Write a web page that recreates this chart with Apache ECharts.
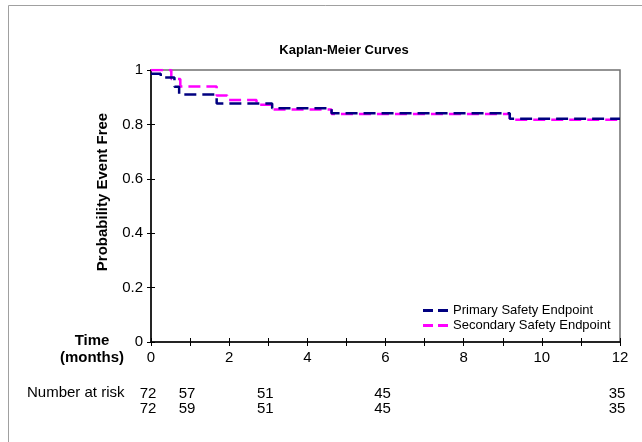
<!DOCTYPE html>
<html>
<head>
<meta charset="utf-8">
<script src="https://cdn.jsdelivr.net/npm/echarts@6/dist/echarts.min.js"></script>
<style>
html,body{margin:0;padding:0;background:#fff;}
#chart{width:642px;height:442px;}
</style>
</head>
<body>
<div id="chart"></div>
<script>
// ---- data ----
const primaryName = 'Primary Safety Endpoint';
const secondaryName = 'Secondary Safety Endpoint';
const primaryTimes = [0, 0.25, 0.6, 0.72, 1.68, 3.1, 4.62, 9.18, 12];
const primarySurv  = [0.986, 0.972, 0.938, 0.910, 0.877, 0.859, 0.841, 0.821, 0.821];
const secondaryTimes = [0, 0.52, 0.75, 1.68, 1.95, 2.7, 3.1, 4.62, 9.18, 12];
const secondarySurv  = [1.0, 0.967, 0.939, 0.906, 0.890, 0.872, 0.855, 0.838, 0.817, 0.817];
const riskTimes = [0, 1, 3, 6, 12];
const riskPrimary = [72, 57, 51, 45, 35];
const riskSecondary = [72, 59, 51, 45, 35];
const xTickLabels = ['0', '2', '4', '6', '8', '10', '12'];
const yTickLabels = ['0', '0.2', '0.4', '0.6', '0.8', '1'];

const font = 'Liberation Sans, Arial, sans-serif';
const zip = (a, b) => a.map((t, i) => [t, b[i]]);
const riskData = [];
riskTimes.forEach((t, i) => { riskData.push([t, 0, riskPrimary[i]]); });
riskTimes.forEach((t, i) => { riskData.push([t, 1, riskSecondary[i]]); });
const dashIcon = 'path://M0,0h10v3h-10z M15,0h10v3h-10z';

const chart = echarts.init(document.getElementById('chart'), null, {renderer: 'canvas'});
chart.setOption({
  animation: false,
  backgroundColor: '#fff',
  textStyle: {fontFamily: font},
  title: {
    text: 'Kaplan-Meier Curves',
    left: 339, top: 39, textAlign: 'center',
    textStyle: {fontFamily: font, fontSize: 13, fontWeight: 'bold', color: '#000'}
  },
  legend: {
    orient: 'vertical', left: 423, top: 304,
    itemWidth: 25, itemHeight: 3, itemGap: 2, padding: 0,
    textStyle: {fontFamily: font, fontSize: 13, color: '#000', padding: [0, 0, 0, 0]},
    data: [{name: primaryName, icon: dashIcon}, {name: secondaryName, icon: dashIcon}]
  },
  grid: [
    {left: 151, right: 22, top: 70, bottom: 100, show: true, borderColor: '#707070', borderWidth: 1.5, backgroundColor: 'transparent'},
    {left: 151, right: 22, top: 386, height: 30}
  ],
  xAxis: [
    {type: 'value', gridIndex: 0, min: 0, max: 12, interval: 1,
     axisLine: {show: true, lineStyle: {color: '#000', width: 1.5}},
     axisTick: {show: true, length: 4, lineStyle: {color: '#000', width: 1}},
     splitLine: {show: false},
     axisLabel: {margin: 8, fontSize: 15, color: '#000', fontFamily: font,
       formatter: v => (xTickLabels.indexOf(String(v)) >= 0 ? String(v) : '')}},
    {type: 'value', gridIndex: 1, min: 0, max: 12, show: false},
    {type: 'value', gridIndex: 0, min: 0, max: 12, interval: 1, position: 'bottom',
     axisLine: {show: false}, axisLabel: {show: false}, splitLine: {show: false},
     axisTick: {show: true, inside: true, length: 4, lineStyle: {color: '#000', width: 1}}}
  ],
  yAxis: [
    {type: 'value', gridIndex: 0, min: 0, max: 1, interval: 0.2,
     axisLine: {show: true, lineStyle: {color: '#000', width: 1.5}},
     axisTick: {show: true, length: 4, lineStyle: {color: '#000', width: 1}},
     splitLine: {show: false},
     axisLabel: {margin: 8, fontSize: 15, color: '#000', fontFamily: font,
       formatter: v => yTickLabels[Math.round(v / 0.2)]}},
    {type: 'category', gridIndex: 1, data: ['primary', 'secondary'], inverse: true, show: false},
    {type: 'value', gridIndex: 0, min: 0, max: 1, interval: 0.2, position: 'left',
     axisLine: {show: false}, axisLabel: {show: false}, splitLine: {show: false},
     axisTick: {show: true, inside: true, length: 4, lineStyle: {color: '#000', width: 1}}}
  ],
  graphic: [
    {type: 'line', shape: {x1: 8.5, y1: 5.5, x2: 8.5, y2: 442}, style: {stroke: '#a0a0a0', lineWidth: 1}, silent: true},
    {type: 'line', shape: {x1: 8.5, y1: 5.5, x2: 642, y2: 5.5}, style: {stroke: '#a0a0a0', lineWidth: 1}, silent: true},
    {type: 'text', x: 103, y: 192, rotation: Math.PI / 2,
     style: {text: 'Probability Event Free', fontFamily: font, fontSize: 15, fontWeight: 'bold', fill: '#000', align: 'center', verticalAlign: 'middle'}},
    {type: 'text', x: 92, y: 349,
     style: {text: 'Time\n(months)', fontFamily: font, fontSize: 15, fontWeight: 'bold', fill: '#000', align: 'center', verticalAlign: 'middle', lineHeight: 17}},
    {type: 'text', x: 27, y: 393,
     style: {text: 'Number at risk', fontFamily: font, fontSize: 15, fill: '#000', align: 'left', verticalAlign: 'middle'}}
  ],
  series: [
    {name: primaryName, type: 'line', xAxisIndex: 0, yAxisIndex: 0, step: 'end',
     data: zip(primaryTimes, primarySurv), symbol: 'none', showSymbol: false, z: 3,
     itemStyle: {color: '#000080'},
     lineStyle: {color: '#000080', width: 2.5, type: [12, 6]}},
    {name: secondaryName, type: 'line', xAxisIndex: 0, yAxisIndex: 0, step: 'end',
     data: zip(secondaryTimes, secondarySurv), symbol: 'none', showSymbol: false, z: 2,
     itemStyle: {color: '#ff00ff'},
     lineStyle: {color: '#ff00ff', width: 2.5, type: [12, 6]}},
    {name: 'risk', type: 'scatter', xAxisIndex: 1, yAxisIndex: 1,
     data: riskData, symbolSize: 1, itemStyle: {color: 'rgba(0,0,0,0)'}, silent: true,
     label: {show: true, position: 'inside', offset: [-3, 0], fontFamily: font, fontSize: 15, color: '#000',
       textBorderWidth: 0, opacity: 1,
       formatter: p => String(p.value[2])}}
  ]
});
</script>
</body>
</html>
